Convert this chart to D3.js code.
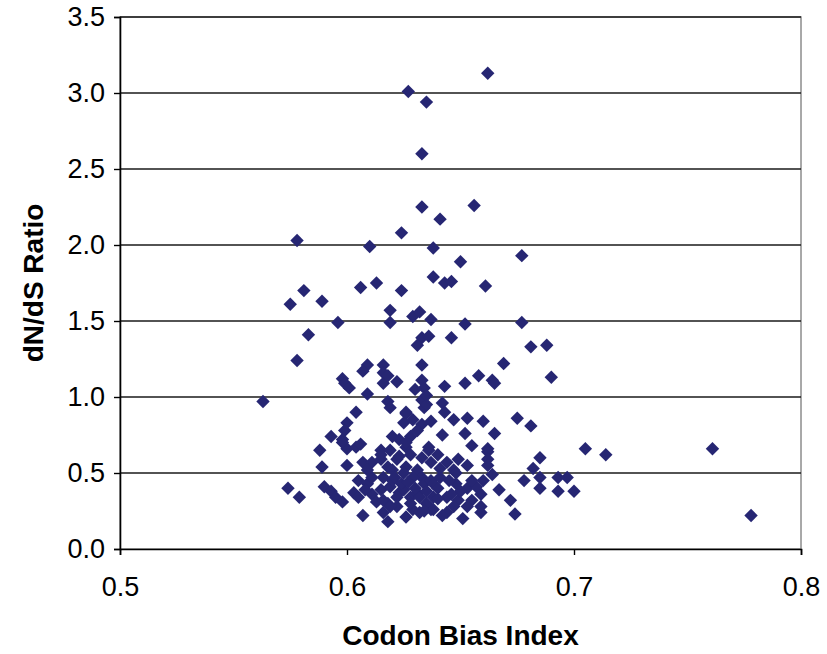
<!DOCTYPE html>
<html>
<head>
<meta charset="utf-8">
<script src="https://cdn.jsdelivr.net/npm/d3@7"></script>
<style>
  html, body { margin: 0; padding: 0; background: #fff; }
  svg { display: block; }
  text { font-family: "Liberation Sans", Arial, sans-serif; fill: #000; }
</style>
</head>
<body>
<svg id="chart" width="827" height="654"></svg>
<script>
// Codon Bias Index (x) and dN/dS ratio (y) for each gene
const cbi = [
  0.662, 0.627, 0.635, 0.633, 0.633, 0.656, 0.641, 0.624, 0.578, 0.610,
  0.638, 0.677, 0.650, 0.638, 0.643, 0.646, 0.661, 0.613, 0.606, 0.624,
  0.581, 0.575, 0.589, 0.619, 0.619, 0.629, 0.632, 0.637, 0.652, 0.677,
  0.596, 0.583, 0.633, 0.636, 0.631, 0.646, 0.681, 0.688, 0.578, 0.633,
  0.609, 0.607, 0.616, 0.616, 0.598, 0.669, 0.658, 0.652, 0.664, 0.665,
  0.690, 0.563, 0.599, 0.601, 0.609, 0.616, 0.618, 0.622, 0.633, 0.634,
  0.630, 0.633, 0.634, 0.618, 0.619, 0.604, 0.626, 0.643, 0.642, 0.643,
  0.647, 0.653, 0.660, 0.675, 0.681, 0.600, 0.599, 0.593, 0.598, 0.600,
  0.604, 0.625, 0.629, 0.633, 0.637, 0.588, 0.620, 0.623, 0.626, 0.628,
  0.615, 0.636, 0.642, 0.652, 0.665, 0.655, 0.662, 0.626, 0.636, 0.626,
  0.631, 0.635, 0.635, 0.589, 0.600, 0.607, 0.611, 0.615, 0.618, 0.622,
  0.620, 0.626, 0.631, 0.633, 0.685, 0.682, 0.705, 0.714, 0.761, 0.778,
  0.644, 0.649, 0.653, 0.662, 0.662, 0.662, 0.664, 0.678, 0.685, 0.685,
  0.693, 0.697, 0.693, 0.700, 0.667, 0.672, 0.674, 0.659, 0.651, 0.644,
  0.637, 0.647, 0.574, 0.579, 0.590, 0.593, 0.595, 0.598, 0.603, 0.605,
  0.609, 0.611, 0.613, 0.607, 0.616, 0.618, 0.615, 0.598, 0.608, 0.605,
  0.615, 0.619, 0.623, 0.628, 0.631, 0.634, 0.629, 0.637, 0.626, 0.629,
  0.618, 0.622, 0.635, 0.638, 0.611, 0.609, 0.638, 0.641, 0.648, 0.648,
  0.653, 0.657, 0.660, 0.659, 0.655, 0.649, 0.644, 0.632, 0.628, 0.638,
  0.647, 0.653, 0.659, 0.642, 0.632, 0.616, 0.619, 0.622, 0.625, 0.620,
  0.625, 0.616, 0.623, 0.619, 0.628, 0.633, 0.637, 0.640, 0.641, 0.606,
  0.624, 0.630, 0.635, 0.640, 0.645, 0.650, 0.640, 0.634, 0.646, 0.655,
  0.621, 0.627
];
const dnds = [
  3.13, 3.01, 2.94, 2.60, 2.25, 2.26, 2.17, 2.08, 2.03, 1.99,
  1.98, 1.93, 1.89, 1.79, 1.75, 1.76, 1.73, 1.75, 1.72, 1.70,
  1.70, 1.61, 1.63, 1.57, 1.49, 1.53, 1.56, 1.51, 1.48, 1.49,
  1.49, 1.41, 1.39, 1.40, 1.34, 1.39, 1.33, 1.34, 1.24, 1.21,
  1.21, 1.17, 1.21, 1.16, 1.12, 1.22, 1.14, 1.09, 1.11, 1.09,
  1.13, 0.97, 1.09, 1.06, 1.02, 1.09, 1.14, 1.10, 1.11, 1.06,
  1.05, 0.98, 0.93, 0.97, 0.93, 0.90, 0.89, 1.07, 0.96, 0.90,
  0.85, 0.86, 0.84, 0.86, 0.81, 0.83, 0.78, 0.74, 0.72, 0.66,
  0.67, 0.83, 0.85, 0.82, 0.84, 0.65, 0.74, 0.72, 0.67, 0.74,
  0.65, 0.65, 0.75, 0.76, 0.76, 0.68, 0.66, 0.70, 0.67, 0.90,
  0.78, 0.95, 1.01, 0.54, 0.55, 0.57, 0.57, 0.59, 0.54, 0.59,
  0.52, 0.54, 0.52, 0.47, 0.60, 0.53, 0.66, 0.62, 0.66, 0.22,
  0.57, 0.59, 0.55, 0.64, 0.59, 0.55, 0.49, 0.45, 0.47, 0.40,
  0.47, 0.47, 0.38, 0.38, 0.39, 0.32, 0.23, 0.24, 0.20, 0.24,
  0.26, 0.52, 0.40, 0.34, 0.41, 0.38, 0.34, 0.31, 0.37, 0.34,
  0.43, 0.36, 0.31, 0.22, 0.24, 0.18, 0.62, 0.70, 0.39, 0.45,
  0.39, 0.41, 0.37, 0.34, 0.37, 0.43, 0.47, 0.45, 0.21, 0.26,
  0.30, 0.28, 0.30, 0.34, 0.47, 0.52, 0.43, 0.47, 0.50, 0.43,
  0.40, 0.41, 0.45, 0.36, 0.32, 0.32, 0.34, 0.34, 0.30, 0.26,
  0.28, 0.28, 0.28, 0.22, 0.24, 0.32, 0.28, 0.34, 0.39, 0.45,
  0.50, 0.47, 0.61, 0.65, 0.62, 0.60, 0.57, 0.62, 0.53, 0.69,
  0.43, 0.40, 0.38, 0.40, 0.45, 0.38, 0.33, 0.25, 0.36, 0.45,
  0.47, 0.44
];
const xTicks = [0.5, 0.6, 0.7, 0.8];
const yTicks = [0.0, 0.5, 1.0, 1.5, 2.0, 2.5, 3.0, 3.5];

const points = cbi.map((c, i) => ({ cbi: c, ratio: dnds[i] }));

const svg = d3.select("#chart");
const margin = { left: 120, right: 26, top: 17, bottom: 105 };
const W = +svg.attr("width"), H = +svg.attr("height");
const innerW = W - margin.left - margin.right;
const innerH = H - margin.top - margin.bottom;

const x = d3.scaleLinear().domain([0.5, 0.8]).range([margin.left, margin.left + innerW]);
const y = d3.scaleLinear().domain([0, 3.5]).range([margin.top + innerH, margin.top]);

// plot-area frame
svg.append("rect")
  .attr("x", margin.left).attr("y", margin.top)
  .attr("width", innerW).attr("height", innerH)
  .attr("fill", "#fff").attr("stroke", "#8c8c8c").attr("stroke-width", 1.5);

// horizontal gridlines
svg.append("g")
  .selectAll("line")
  .data(yTicks.filter(t => t > 0))
  .join("line")
  .attr("x1", margin.left).attr("x2", margin.left + innerW)
  .attr("y1", d => y(d)).attr("y2", d => y(d))
  .attr("stroke", "#1a1a1a").attr("stroke-width", 1.4);

// axes
const yAxis = svg.append("g")
  .attr("transform", `translate(${margin.left},0)`)
  .call(d3.axisLeft(y).tickValues(yTicks).tickFormat(d3.format(".1f")).tickSize(6).tickPadding(9));
const xAxis = svg.append("g")
  .attr("transform", `translate(0,${margin.top + innerH})`)
  .call(d3.axisBottom(x).tickValues(xTicks).tickFormat(d3.format(".1f")).tickSize(6).tickPadding(22));

[yAxis, xAxis].forEach(g => {
  g.select(".domain").attr("stroke", "#000").attr("stroke-width", 1.6);
  g.selectAll(".tick line").attr("stroke", "#000").attr("stroke-width", 1.4);
  g.selectAll(".tick text").attr("font-size", 27).attr("fill", "#111")
    .attr("font-family", "'Liberation Sans', Arial, sans-serif");
});

// data markers: diamonds
const diamond = d3.symbol().type(d3.symbolSquare).size(90);
svg.append("g")
  .selectAll("path")
  .data(points)
  .join("path")
  .attr("d", diamond)
  .attr("transform", d => `translate(${x(d.cbi)},${y(d.ratio)}) rotate(45)`)
  .attr("fill", "#262673");

// axis titles
svg.append("text")
  .attr("x", margin.left + innerW / 2)
  .attr("y", 645)
  .attr("text-anchor", "middle")
  .attr("font-size", 28).attr("font-weight", "bold")
  .text("Codon Bias Index");

svg.append("text")
  .attr("transform", `translate(43,${margin.top + innerH / 2}) rotate(-90)`)
  .attr("text-anchor", "middle")
  .attr("font-size", 28).attr("font-weight", "bold")
  .text("dN/dS Ratio");
</script>
</body>
</html>
